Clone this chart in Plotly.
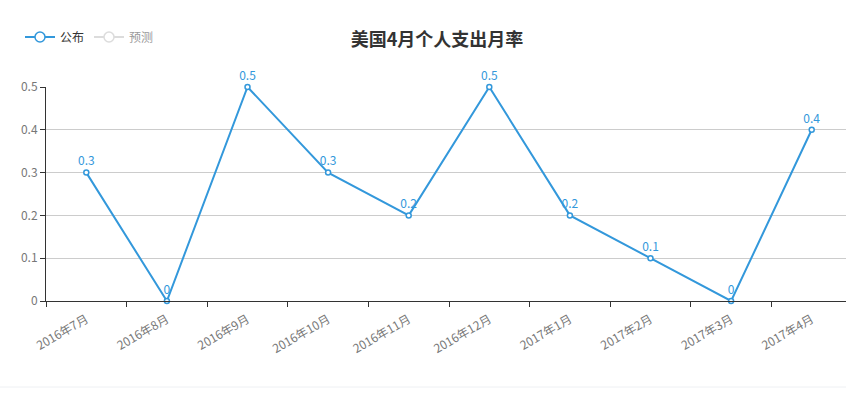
import plotly.graph_objects as go

categories = ["2016年7月", "2016年8月", "2016年9月", "2016年10月", "2016年11月",
              "2016年12月", "2017年1月", "2017年2月", "2017年3月", "2017年4月"]
published = [0.3, 0, 0.5, 0.3, 0.2, 0.5, 0.2, 0.1, 0, 0.4]
forecast = [None] * len(categories)
y_ticks = [0, 0.1, 0.2, 0.3, 0.4, 0.5]
y_tick_text = ["0", "0.1", "0.2", "0.3", "0.4", "0.5"]

BLUE = "#3398DB"
FONT = "Noto Sans CJK SC, Microsoft YaHei, sans-serif"

fig = go.Figure()
fig.add_trace(go.Scatter(
    x=categories, y=published, name="公布",
    mode="lines+markers+text",
    line=dict(color=BLUE, width=2),
    marker=dict(symbol="circle", size=5, color="white", line=dict(color=BLUE, width=1.5)),
    text=[str(v) for v in published], textposition="top center",
    textfont=dict(color=BLUE, size=12, family=FONT),
    cliponaxis=False, showlegend=False,
))
# legend entries (bigger icons)
fig.add_trace(go.Scatter(
    x=[None], y=[None], name="公布", mode="lines+markers",
    line=dict(color=BLUE, width=2),
    marker=dict(symbol="circle", size=10, color="white", line=dict(color=BLUE, width=1.5)),
))
fig.add_trace(go.Scatter(
    x=categories, y=forecast, name="预测",
    mode="lines+markers",
    line=dict(color="#bbbbbb", width=2),
    marker=dict(symbol="circle", size=10, color="white", line=dict(color="#bbbbbb", width=1.5)),
    visible="legendonly",
))

fig.update_layout(
    width=846, height=393,
    margin=dict(l=46, r=0, t=87, b=92),
    paper_bgcolor="white", plot_bgcolor="white",
    font=dict(family=FONT, size=12, color="#666"),
    title=dict(text="<b>美国4月个人支出月率</b>", x=437/846, xanchor="center",
               y=1 - 40/393, yref="container", yanchor="middle",
               font=dict(size=18, color="#333", family=FONT)),
    legend=dict(orientation="h", x=20/846, xref="container", xanchor="left",
                y=1 - 37/393, yref="container", yanchor="middle",
                font=dict(size=12, color="#333", family=FONT),
                itemwidth=30, itemclick=False, itemdoubleclick=False),
    showlegend=True,
    xaxis=dict(
        type="category", categoryorder="array", categoryarray=categories,
        range=[-0.5, 9.5 - 6/80.6],
        tickson="boundaries", ticks="outside", ticklen=5, tickcolor="#333",
        showline=True, linecolor="#333", linewidth=1,
        showgrid=False, zeroline=False, ticklabelstandoff=6,
        tickangle=-30, tickfont=dict(size=12, color="#777", family=FONT),
    ),
    yaxis=dict(
        range=[0, 0.5], tickvals=y_ticks, ticktext=y_tick_text,
        ticks="outside", ticklen=5, tickcolor="#333",
        showline=True, linecolor="#333", linewidth=1,
        showgrid=True, gridcolor="#ccc", gridwidth=1, zeroline=False,
        tickfont=dict(size=12, color="#777", family=FONT),
    ),
    shapes=[dict(type="line", xref="paper", yref="paper",
                 x0=-46/800, x1=1, y0=-86/214, y1=-86/214,
                 line=dict(color="#eef0f3", width=1))],
)

fig.write_html("out.html")
